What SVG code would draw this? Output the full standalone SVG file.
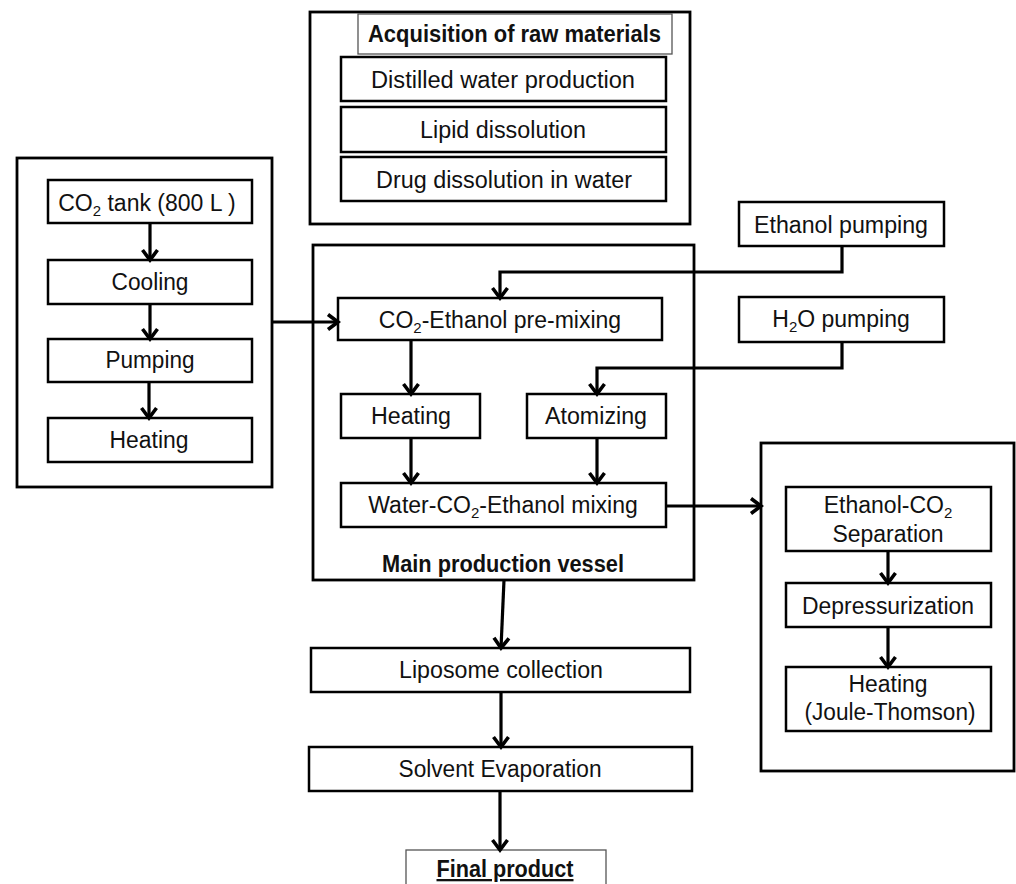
<svg xmlns="http://www.w3.org/2000/svg" width="1016" height="884" viewBox="0 0 1016 884">
<style>
.b{fill:#fff;stroke:#000;stroke-width:2.5}
.o{fill:none;stroke:#000;stroke-width:2.8}
.t{fill:none;stroke:#555;stroke-width:1.3}
.x{font-family:"Liberation Sans",Arial,sans-serif;font-size:23px;fill:#111;text-anchor:middle}
.bd{font-weight:bold}
.s{font-size:15px}
.c{fill:none;stroke:#000;stroke-width:3.2;marker-end:url(#arr)}
</style>
<defs>
<marker id="arr" markerUnits="userSpaceOnUse" markerWidth="20" markerHeight="20" viewBox="0 0 20 20" refX="15" refY="10" orient="auto">
<path d="M5,2.5 L15,10 L5,17.5" fill="none" stroke="#000" stroke-width="3.6"/>
</marker>
</defs>
<rect width="1016" height="884" fill="#fff"/>

<g id="raw-materials">
<rect class="o" x="310" y="12" width="380" height="212"/>
<rect class="t" x="358" y="14" width="314" height="40"/>
<text class="x bd" x="514.5" y="42" textLength="293" lengthAdjust="spacingAndGlyphs">Acquisition of raw materials</text>
<rect class="b" x="341" y="57" width="325" height="44"/>
<text class="x" x="503" y="88" textLength="264" lengthAdjust="spacingAndGlyphs">Distilled water production</text>
<rect class="b" x="341" y="107" width="325" height="45"/>
<text class="x" x="503" y="138" textLength="166" lengthAdjust="spacingAndGlyphs">Lipid dissolution</text>
<rect class="b" x="341" y="157" width="325" height="44"/>
<text class="x" x="504" y="188" textLength="256" lengthAdjust="spacingAndGlyphs">Drug dissolution in water</text>
</g>

<g id="co2-line">
<rect class="o" x="17" y="158" width="255" height="329"/>
<rect class="b" x="48" y="180" width="204" height="43"/>
<text class="x" x="147" y="211">CO<tspan class="s" dy="5">2</tspan><tspan dy="-5"> tank (800 L )</tspan></text>
<rect class="b" x="48" y="260" width="204" height="44"/>
<text class="x" x="150" y="290" textLength="77" lengthAdjust="spacingAndGlyphs">Cooling</text>
<rect class="b" x="48" y="339" width="204" height="43"/>
<text class="x" x="150" y="368" textLength="89" lengthAdjust="spacingAndGlyphs">Pumping</text>
<rect class="b" x="48" y="418" width="204" height="44"/>
<text class="x" x="149" y="448" textLength="79" lengthAdjust="spacingAndGlyphs">Heating</text>
</g>

<g id="main-vessel">
<rect class="o" x="313" y="245" width="381" height="335"/>
<rect class="b" x="338" y="298" width="324" height="42"/>
<text class="x" x="500" y="328">CO<tspan class="s" dy="5">2</tspan><tspan dy="-5">-Ethanol pre-mixing</tspan></text>
<rect class="b" x="341" y="394" width="139" height="44"/>
<text class="x" x="411" y="424" textLength="80" lengthAdjust="spacingAndGlyphs">Heating</text>
<rect class="b" x="527" y="394" width="139" height="44"/>
<text class="x" x="596" y="424" textLength="102" lengthAdjust="spacingAndGlyphs">Atomizing</text>
<rect class="b" x="341" y="483" width="325" height="44"/>
<text class="x" x="503" y="513">Water-CO<tspan class="s" dy="5">2</tspan><tspan dy="-5">-Ethanol mixing</tspan></text>
<text class="x bd" x="503" y="572" textLength="242" lengthAdjust="spacingAndGlyphs">Main production vessel</text>
</g>

<g id="ethanol-pumping">
<rect class="b" x="739" y="202" width="205" height="44"/>
<text class="x" x="841" y="233" textLength="174" lengthAdjust="spacingAndGlyphs">Ethanol pumping</text>
</g>

<g id="h2o-pumping">
<rect class="b" x="739" y="297" width="205" height="45"/>
<text class="x" x="841" y="327">H<tspan class="s" dy="5">2</tspan><tspan dy="-5">O pumping</tspan></text>
</g>

<g id="separation">
<rect class="o" x="761" y="443" width="253" height="328"/>
<rect class="b" x="786" y="487" width="205" height="64"/>
<text class="x" x="888" y="513">Ethanol-CO<tspan class="s" dy="5">2</tspan></text>
<text class="x" x="888" y="542" textLength="111" lengthAdjust="spacingAndGlyphs">Separation</text>
<rect class="b" x="786" y="583" width="205" height="44"/>
<text class="x" x="888" y="614" textLength="172" lengthAdjust="spacingAndGlyphs">Depressurization</text>
<rect class="b" x="786" y="667" width="205" height="64"/>
<text class="x" x="888" y="692" textLength="79" lengthAdjust="spacingAndGlyphs">Heating</text>
<text class="x" x="890" y="720" textLength="171" lengthAdjust="spacingAndGlyphs">(Joule-Thomson)</text>
</g>

<g id="liposome-collection">
<rect class="b" x="311" y="648" width="379" height="44"/>
<text class="x" x="501" y="678" textLength="204" lengthAdjust="spacingAndGlyphs">Liposome collection</text>
</g>

<g id="solvent-evaporation">
<rect class="b" x="309" y="747" width="383" height="44"/>
<text class="x" x="500" y="777" textLength="203" lengthAdjust="spacingAndGlyphs">Solvent Evaporation</text>
</g>

<g id="final-product">
<rect class="t" x="406" y="850" width="200" height="50"/>
<text class="x bd" x="505" y="877" textLength="137" lengthAdjust="spacingAndGlyphs" text-decoration="underline">Final product</text>
</g>

<g id="connectors">
<line class="c" x1="150" y1="223" x2="150" y2="260"/>
<line class="c" x1="150" y1="304" x2="150" y2="339"/>
<line class="c" x1="149" y1="382" x2="149" y2="418"/>
<line class="c" x1="272" y1="322" x2="338" y2="322"/>
<polyline class="c" points="842,246 842,272 500,272 500,298"/>
<polyline class="c" points="842,342 842,368 597,368 597,394"/>
<line class="c" x1="411" y1="340" x2="411" y2="394"/>
<line class="c" x1="411" y1="438" x2="411" y2="483"/>
<line class="c" x1="597" y1="438" x2="597" y2="483"/>
<line class="c" x1="666" y1="506" x2="761" y2="506"/>
<line class="c" x1="888" y1="551" x2="888" y2="583"/>
<line class="c" x1="888" y1="627" x2="888" y2="667"/>
<line class="c" x1="504" y1="580" x2="501" y2="648"/>
<line class="c" x1="501" y1="692" x2="501" y2="747"/>
<line class="c" x1="500" y1="791" x2="500" y2="850"/>
</g>
</svg>
